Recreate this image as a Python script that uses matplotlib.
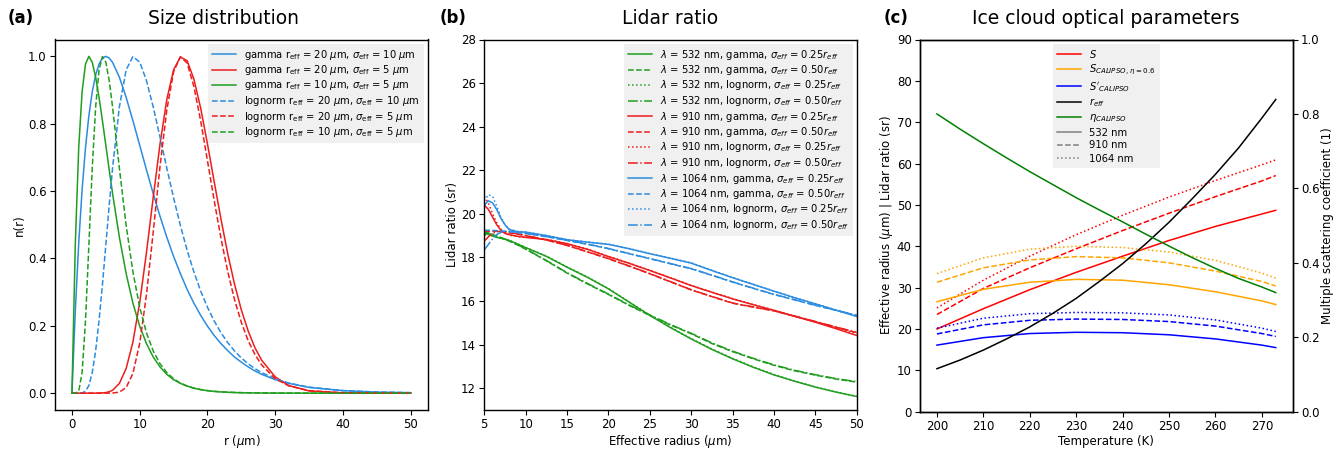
import numpy as np
import matplotlib
matplotlib.use("Agg")
import matplotlib.pyplot as plt
from matplotlib.lines import Line2D

# ---------------- (a) size distributions, normalised to peak ----------------
r_grid = [0, 0.5, 1, 1.5, 2, 2.5, 3, 3.5, 4, 4.5, 5, 5.5, 6, 7, 8, 9, 10, 11, 12, 13,
          14, 15, 16, 17, 18, 19, 20, 21, 22, 23, 24, 25, 26, 27, 28, 30, 32, 35, 40, 45, 50]

gamma_20_10 = [0, 0.246, 0.445, 0.604, 0.729, 0.824, 0.895, 0.945, 0.977, 0.995, 1.0, 0.995,
               0.982, 0.938, 0.878, 0.809, 0.736, 0.663, 0.592, 0.525, 0.463, 0.406, 0.355,
               0.308, 0.267, 0.231, 0.199, 0.171, 0.147, 0.126, 0.107, 0.092, 0.078, 0.066,
               0.056, 0.040, 0.029, 0.017, 0.0073, 0.003, 0.0012]
gamma_20_5 = [0, 0, 0, 0, 0, 0, 0, 0, 0.0002, 0.0007, 0.0018, 0.0042, 0.0086, 0.0288, 0.0733,
              0.152, 0.269, 0.418, 0.582, 0.740, 0.872, 0.960, 0.998, 0.987, 0.932, 0.846,
              0.740, 0.627, 0.516, 0.413, 0.323, 0.247, 0.185, 0.135, 0.0977, 0.0483, 0.0226,
              0.0066, 0.0007, 0, 0]
gamma_10_5 = [0, 0.445, 0.729, 0.895, 0.977, 1.0, 0.982, 0.938, 0.878, 0.809, 0.736, 0.663,
              0.592, 0.463, 0.355, 0.267, 0.199, 0.147, 0.107, 0.078, 0.056, 0.040, 0.029,
              0.021, 0.0146, 0.0103, 0.0073, 0.0051, 0.0036, 0.0025, 0.0018, 0.0012, 0.0009,
              0.0006, 0.0004, 0.0002, 0.0001, 0, 0, 0, 0]
lognorm_20_10 = [0, 0, 0, 0.0007, 0.0056, 0.0229, 0.0613, 0.1257, 0.215, 0.3225, 0.440, 0.558,
                 0.670, 0.850, 0.960, 0.9993, 0.983, 0.928, 0.849, 0.760, 0.668, 0.580, 0.498,
                 0.424, 0.360, 0.303, 0.255, 0.214, 0.179, 0.150, 0.125, 0.1045, 0.0873,
                 0.0729, 0.061, 0.0427, 0.030, 0.0178, 0.0077, 0.0034, 0.0016]
lognorm_20_5 = [0, 0, 0, 0, 0, 0, 0, 0, 0, 0, 0, 0.0001, 0.0003, 0.0031, 0.0167, 0.0585, 0.148,
                0.293, 0.479, 0.674, 0.841, 0.954, 0.999, 0.980, 0.910, 0.808, 0.690, 0.571,
                0.459, 0.360, 0.277, 0.210, 0.156, 0.115, 0.0836, 0.0431, 0.0216, 0.0074,
                0.0012, 0.0002, 0]
lognorm_10_5 = [0, 0, 0.0056, 0.0613, 0.215, 0.440, 0.670, 0.850, 0.960, 0.9993, 0.983, 0.928,
                0.849, 0.668, 0.498, 0.360, 0.255, 0.179, 0.125, 0.0873, 0.061, 0.0427, 0.030,
                0.0212, 0.0150, 0.0107, 0.0077, 0.0055, 0.0040, 0.0029, 0.0021, 0.0016, 0.0012,
                0.0009, 0.0007, 0.0004, 0.0002, 0.0001, 0, 0, 0]

# ---------------- (b) lidar ratio vs effective radius ----------------
reff_b = [5, 5.5, 6, 6.5, 7, 7.5, 8, 9, 10, 12.5, 15, 17.5, 20, 22.5, 25, 27.5, 30, 32.5,
          35, 37.5, 40, 42.5, 45, 47.5, 50]

lr_532_g25 = [19.15, 19.05, 18.98, 18.92, 18.88, 18.84, 18.78, 18.62, 18.45, 18.05, 17.55, 17.08,
              16.56, 15.95, 15.34, 14.78, 14.26, 13.78, 13.35, 12.96, 12.61, 12.32, 12.05, 11.82, 11.62]
lr_532_g50 = [19.2, 19.12, 19.05, 18.97, 18.9, 18.83, 18.75, 18.58, 18.38, 17.85, 17.28, 16.78,
              16.3, 15.8, 15.34, 14.9, 14.5, 14.05, 13.68, 13.35, 13.05, 12.8, 12.6, 12.42, 12.28]
lr_532_l25 = [19.0, 19.1, 19.05, 18.97, 18.9, 18.85, 18.79, 18.63, 18.46, 18.06, 17.57, 17.1,
              16.57, 15.96, 15.35, 14.8, 14.28, 13.8, 13.37, 12.98, 12.63, 12.33, 12.06, 11.83, 11.63]
lr_532_l50 = [19.05, 19.1, 19.05, 18.98, 18.91, 18.84, 18.76, 18.59, 18.39, 17.86, 17.3, 16.8,
              16.32, 15.82, 15.36, 14.92, 14.52, 14.08, 13.7, 13.37, 13.07, 12.82, 12.62, 12.44, 12.3]
lr_910_g25 = [20.4, 20.2, 19.85, 19.5, 19.25, 19.1, 19.05, 18.97, 18.92, 18.82, 18.63, 18.37,
              18.04, 17.73, 17.4, 17.06, 16.71, 16.4, 16.1, 15.83, 15.57, 15.3, 15.03, 14.73, 14.42]
lr_910_g50 = [19.2, 19.2, 19.2, 19.2, 19.18, 19.16, 19.13, 19.07, 19.0, 18.8, 18.55, 18.25,
              17.94, 17.6, 17.25, 16.88, 16.51, 16.2, 15.9, 15.72, 15.55, 15.3, 15.05, 14.8, 14.55]
lr_910_l25 = [20.8, 20.5, 20.0, 19.6, 19.3, 19.12, 19.02, 18.96, 18.93, 18.83, 18.64, 18.38,
              18.05, 17.74, 17.41, 17.07, 16.72, 16.41, 16.11, 15.84, 15.58, 15.31, 15.05, 14.78, 14.5]
lr_910_l50 = [18.75, 18.95, 19.1, 19.18, 19.2, 19.18, 19.15, 19.08, 19.01, 18.81, 18.56, 18.26,
              17.95, 17.61, 17.26, 16.89, 16.52, 16.21, 15.91, 15.73, 15.56, 15.31, 15.06, 14.81, 14.56]
lr_1064_g25 = [20.4, 20.6, 20.5, 20.2, 19.8, 19.5, 19.28, 19.18, 19.16, 19.0, 18.81, 18.7,
               18.6, 18.4, 18.17, 17.96, 17.74, 17.4, 17.07, 16.76, 16.45, 16.15, 15.87, 15.58, 15.29]
lr_1064_g50 = [19.25, 19.25, 19.24, 19.23, 19.22, 19.2, 19.18, 19.14, 19.1, 18.95, 18.78, 18.6,
               18.4, 18.17, 17.94, 17.71, 17.48, 17.18, 16.87, 16.58, 16.3, 16.05, 15.8, 15.57, 15.34]
lr_1064_l25 = [20.6, 20.88, 20.8, 20.35, 19.85, 19.5, 19.3, 19.2, 19.17, 19.01, 18.82, 18.71,
               18.61, 18.41, 18.18, 17.97, 17.75, 17.41, 17.08, 16.77, 16.46, 16.16, 15.88, 15.59, 15.3]
lr_1064_l50 = [18.35, 18.6, 18.85, 19.05, 19.15, 19.2, 19.2, 19.16, 19.11, 18.96, 18.79, 18.61,
               18.41, 18.18, 17.95, 17.72, 17.49, 17.19, 16.88, 16.59, 16.31, 16.06, 15.81, 15.58, 15.35]

# ---------------- (c) ice cloud optical parameters vs temperature ----------------
temp_c = [200, 210, 220, 230, 240, 250, 260, 270, 273]
S_532 = [20.0, 24.9, 29.5, 33.7, 37.6, 41.4, 44.8, 47.8, 48.7]
S_910 = [23.5, 29.8, 34.8, 39.4, 43.8, 48.0, 52.0, 55.8, 57.1]
S_1064 = [25.1, 31.8, 37.6, 42.8, 47.5, 51.9, 55.9, 59.7, 60.9]
Scal_532 = [26.6, 29.6, 31.3, 32.0, 31.8, 30.7, 29.0, 26.8, 25.9]
Scal_910 = [31.3, 34.8, 36.7, 37.5, 37.2, 36.0, 34.0, 31.5, 30.4]
Scal_1064 = [33.4, 37.2, 39.3, 40.0, 39.7, 38.6, 36.6, 33.5, 32.3]
Sp_532 = [16.1, 17.9, 18.9, 19.2, 19.1, 18.6, 17.6, 16.1, 15.5]
Sp_910 = [18.8, 21.0, 22.1, 22.4, 22.3, 21.8, 20.7, 18.9, 18.2]
Sp_1064 = [20.2, 22.6, 23.7, 24.0, 23.9, 23.4, 22.2, 20.2, 19.4]

temp_fine = [200, 205, 210, 215, 220, 225, 230, 235, 240, 245, 250, 255, 260, 265, 270, 273]
reff_c = [10.4, 12.5, 14.9, 17.6, 20.5, 23.8, 27.4, 31.5, 35.8, 40.6, 45.8, 51.5, 57.4, 63.8, 71.0, 75.5]
eta_c = [0.80, 0.759, 0.72, 0.682, 0.645, 0.61, 0.575, 0.542, 0.51, 0.477, 0.445, 0.414,
         0.385, 0.358, 0.335, 0.32]

c_blue = '#2b8ce0'
c_red = '#ee1c1c'
c_green = '#1f9e1f'

plt.rcParams['font.size'] = 8.5
plt.rcParams['xtick.labelsize'] = 8.5
plt.rcParams['ytick.labelsize'] = 8.5
plt.rcParams['axes.labelsize'] = 8.5
plt.rcParams['axes.labelpad'] = 1.5
plt.rcParams['xtick.major.pad'] = 2.5
plt.rcParams['ytick.major.pad'] = 2.5
plt.rcParams['axes.linewidth'] = 1.0

fig = plt.figure(figsize=(13.38, 4.49), dpi=100)
W, H = 1338, 449


def rect(x0, x1, y0=39.5, y1=410):
    return [x0 / W, 1 - y1 / H, (x1 - x0) / W, (y1 - y0) / H]


leg_kw = dict(fontsize=7.2, facecolor='#f0f0f0', edgecolor='none', framealpha=1.0,
              fancybox=False, borderpad=0.4, labelspacing=0.15, handlelength=2.4,
              borderaxespad=0.4)

# ---- panel (a)
ax1 = fig.add_axes(rect(55, 427.7))
lw = 1.1
ax1.plot(r_grid, gamma_20_10, color=c_blue, lw=lw,
         label=r'gamma r$_{\rm eff}$ = 20 $\mu$m, $\sigma_{\rm eff}$ = 10 $\mu$m')
ax1.plot(r_grid, gamma_20_5, color=c_red, lw=lw,
         label=r'gamma r$_{\rm eff}$ = 20 $\mu$m, $\sigma_{\rm eff}$ = 5 $\mu$m')
ax1.plot(r_grid, gamma_10_5, color=c_green, lw=lw,
         label=r'gamma r$_{\rm eff}$ = 10 $\mu$m, $\sigma_{\rm eff}$ = 5 $\mu$m')
ax1.plot(r_grid, lognorm_20_10, color=c_blue, lw=lw, ls='--',
         label=r'lognorm r$_{\rm eff}$ = 20 $\mu$m, $\sigma_{\rm eff}$ = 10 $\mu$m')
ax1.plot(r_grid, lognorm_20_5, color=c_red, lw=lw, ls='--',
         label=r'lognorm r$_{\rm eff}$ = 20 $\mu$m, $\sigma_{\rm eff}$ = 5 $\mu$m')
ax1.plot(r_grid, lognorm_10_5, color=c_green, lw=lw, ls='--',
         label=r'lognorm r$_{\rm eff}$ = 10 $\mu$m, $\sigma_{\rm eff}$ = 5 $\mu$m')
ax1.set_xlabel(r'r ($\mu$m)')
ax1.set_ylabel('n(r)')
ax1.legend(loc='upper right', **leg_kw)

# ---- panel (b)
ax2 = fig.add_axes(rect(484.3, 856.7))
series_b = [
    ('532', 'gamma', '0.25', lr_532_g25, c_green, '-'),
    ('532', 'gamma', '0.50', lr_532_g50, c_green, '--'),
    ('532', 'lognorm', '0.25', lr_532_l25, c_green, ':'),
    ('532', 'lognorm', '0.50', lr_532_l50, c_green, '-.'),
    ('910', 'gamma', '0.25', lr_910_g25, c_red, '-'),
    ('910', 'gamma', '0.50', lr_910_g50, c_red, '--'),
    ('910', 'lognorm', '0.25', lr_910_l25, c_red, ':'),
    ('910', 'lognorm', '0.50', lr_910_l50, c_red, '-.'),
    ('1064', 'gamma', '0.25', lr_1064_g25, c_blue, '-'),
    ('1064', 'gamma', '0.50', lr_1064_g50, c_blue, '--'),
    ('1064', 'lognorm', '0.25', lr_1064_l25, c_blue, ':'),
    ('1064', 'lognorm', '0.50', lr_1064_l50, c_blue, '-.'),
]
for wl, dist, frac, vals, col, ls in series_b:
    ax2.plot(reff_b, vals, color=col, ls=ls, lw=lw,
             label=rf'$\lambda$ = {wl} nm, {dist}, $\sigma_{{eff}}$ = {frac}$r_{{eff}}$')
ax2.set_xlim(5, 50)
ax2.set_ylim(11, 28)
ax2.set_xticks(np.arange(5, 51, 5))
ax2.set_yticks(np.arange(12, 29, 2))
ax2.set_xlabel(r'Effective radius ($\mu$m)')
ax2.set_ylabel('Lidar ratio (sr)')
ax2.legend(loc='upper right', **leg_kw)

# ---- panel (c)
ax3 = fig.add_axes(rect(920, 1292.7, 39.5, 411.7))
ax3r = ax3.twinx()
for vals, ls in [(S_532, '-'), (S_910, '--'), (S_1064, ':')]:
    ax3.plot(temp_c, vals, color='red', ls=ls, lw=lw)
for vals, ls in [(Scal_532, '-'), (Scal_910, '--'), (Scal_1064, ':')]:
    ax3.plot(temp_c, vals, color='orange', ls=ls, lw=lw)
for vals, ls in [(Sp_532, '-'), (Sp_910, '--'), (Sp_1064, ':')]:
    ax3.plot(temp_c, vals, color='blue', ls=ls, lw=lw)
ax3.plot(temp_fine, reff_c, color='black', lw=lw)
ax3r.plot(temp_fine, eta_c, color='green', lw=lw)
ax3.set_ylim(0, 90)
ax3r.set_ylim(0, 1.0)
ax3.set_xticks(np.arange(200, 271, 10))
ax3.set_xlabel('Temperature (K)')
ax3.set_ylabel(r'Effective radius ($\mu$m) | Lidar ratio (sr)')
ax3r.set_ylabel('Multiple scattering coefficient (1)', labelpad=1)

handles = [
    Line2D([], [], color='red', lw=lw, label=r'$S$'),
    Line2D([], [], color='orange', lw=lw, label=r'$S_{CALIPSO,\,\eta=0.6}$'),
    Line2D([], [], color='blue', lw=lw, label=r"$S'_{CALIPSO}$"),
    Line2D([], [], color='black', lw=lw, label=r'$r_{eff}$'),
    Line2D([], [], color='green', lw=lw, label=r'$\eta_{CALIPSO}$'),
    Line2D([], [], color='gray', lw=lw, ls='-', label='532 nm'),
    Line2D([], [], color='gray', lw=lw, ls='--', label='910 nm'),
    Line2D([], [], color='gray', lw=lw, ls=':', label='1064 nm'),
]
leg_c = dict(leg_kw)
leg_c['labelspacing'] = 0.3
ax3.legend(handles=handles, loc='upper center', **leg_c)

# titles and panel letters
title_y = 1 - 18 / H
fig.text(223 / W, title_y, 'Size distribution', fontsize=13.5, ha='center', va='center')
fig.text(670.5 / W, title_y, 'Lidar ratio', fontsize=13.5, ha='center', va='center')
fig.text(1106 / W, title_y, 'Ice cloud optical parameters', fontsize=13.5, ha='center', va='center')
fig.text(8 / W, title_y, '(a)', fontsize=12, fontweight='bold', va='center')
fig.text(440 / W, title_y, '(b)', fontsize=12, fontweight='bold', va='center')
fig.text(884 / W, title_y, '(c)', fontsize=12, fontweight='bold', va='center')

fig.savefig('out.png', dpi=100)
